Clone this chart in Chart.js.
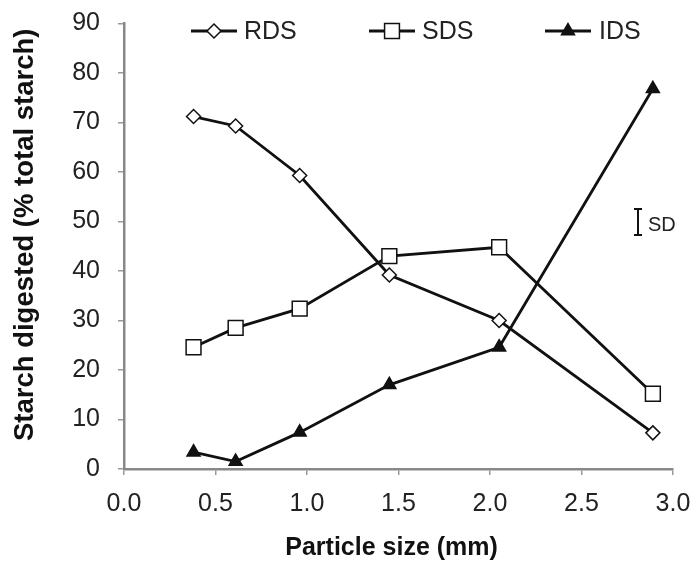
<!DOCTYPE html>
<html lang="en">
<head>
    <meta charset="UTF-8">
    <title>Starch digestion vs particle size</title>
    <script src="https://cdn.jsdelivr.net/npm/chart.js"></script>
    <style>
        body { margin: 0; background: #fff; }
        #wrap { width: 698px; height: 563px; }
    </style>
</head>
<body>
    <div id="wrap"><canvas id="starchChart" width="698" height="563"></canvas></div>

    <script>
        // values
        const particleSize = [0.38, 0.61, 0.96, 1.45, 2.05, 2.89];
        const rds = [71.2, 69.3, 59.3, 39.2, 30.0, 7.3];
        const sds = [24.6, 28.5, 32.4, 43.0, 44.8, 15.2];
        const ids = [3.4, 1.5, 7.4, 17.0, 24.6, 76.8];
        const legendNames = ['RDS', 'SDS', 'IDS'];

        const FONT = '"Liberation Sans", Arial, sans-serif';
        const ink = '#111';

        function pairs(ys) {
            return ys.map((y, i) => ({ x: particleSize[i], y: y }));
        }

        const markerStyles = [
            { pointStyle: 'rectRot', pointRadius: 7, pointBackgroundColor: '#fff' },
            { pointStyle: 'rect', pointRadius: 10.5, pointBackgroundColor: '#fff' },
            { pointStyle: 'triangle', pointRadius: 7.5, pointBackgroundColor: ink }
        ];

        // legend across the top of the plot + the SD bar
        const extras = {
            id: 'extras',
            afterDraw(chart) {
                const ctx = chart.ctx;
                const slots = [[191, 244], [369, 422], [545, 599]];
                ctx.save();
                chart.data.datasets.forEach((ds, i) => {
                    const x0 = slots[i][0], y = 31;
                    ctx.strokeStyle = ink;
                    ctx.lineWidth = 3;
                    ctx.beginPath();
                    ctx.moveTo(x0, y);
                    ctx.lineTo(x0 + 46, y);
                    ctx.stroke();
                    ctx.lineWidth = 1.5;
                    ctx.fillStyle = ds.pointBackgroundColor;
                    ctx.strokeStyle = ink;
                    Chart.helpers.drawPoint(ctx, {
                        pointStyle: ds.pointStyle,
                        radius: ds.pointRadius,
                        rotation: 0,
                        borderWidth: 1.5
                    }, x0 + 23, y);
                    ctx.fillStyle = '#222';
                    ctx.font = '25px ' + FONT;
                    ctx.textBaseline = 'middle';
                    ctx.fillText(ds.label, slots[i][1], y + 1);
                });

                // SD indicator
                ctx.strokeStyle = ink;
                ctx.lineWidth = 2;
                ctx.beginPath();
                ctx.moveTo(638, 209); ctx.lineTo(638, 235);
                ctx.moveTo(634, 209); ctx.lineTo(642, 209);
                ctx.moveTo(634, 235); ctx.lineTo(642, 235);
                ctx.stroke();
                ctx.fillStyle = '#222';
                ctx.font = '20px ' + FONT;
                ctx.textBaseline = 'middle';
                ctx.fillText('SD', 648, 225);
                ctx.restore();
            }
        };

        const ctx = document.getElementById('starchChart').getContext('2d');
        const starchChart = new Chart(ctx, {
            type: 'scatter',
            data: {
                datasets: [rds, sds, ids].map((vals, i) => Object.assign({
                    label: legendNames[i],
                    data: pairs(vals),
                    showLine: true,
                    borderColor: ink,
                    borderWidth: 2.8,
                    pointBorderColor: ink,
                    pointBorderWidth: 1.5,
                    tension: 0
                }, markerStyles[i]))
            },
            options: {
                responsive: false,
                animation: false,
                layout: { padding: { top: 23.5, right: 25, left: 0, bottom: 0 } },
                plugins: {
                    legend: { display: false },
                    tooltip: { enabled: false }
                },
                scales: {
                    x: {
                        type: 'linear',
                        min: 0, max: 3,
                        afterFit: s => { s.height = 94; s.paddingLeft = 0; s.paddingRight = 0; },
                        ticks: {
                            stepSize: 0.5,
                            callback: v => v.toFixed(1),
                            color: '#222',
                            font: { family: FONT, size: 25 },
                            padding: 14
                        },
                        grid: { drawOnChartArea: false, drawTicks: true, tickLength: 6, color: '#999', lineWidth: 1.5 },
                        border: { display: true, color: '#888', width: 2.5 },
                        title: {
                            display: true,
                            text: 'Particle size (mm)  ',
                            color: '#111',
                            font: { family: FONT, size: 25, weight: 'bold' },
                            padding: { top: 0, bottom: 0 }
                        }
                    },
                    y: {
                        min: 0, max: 90,
                        afterFit: s => { s.width = 124; s.paddingTop = 0; s.paddingBottom = 0; },
                        ticks: {
                            stepSize: 10,
                            color: '#222',
                            font: { family: FONT, size: 25 },
                            padding: 18
                        },
                        grid: { drawOnChartArea: false, drawTicks: true, tickLength: 6, color: '#999', lineWidth: 1.5 },
                        border: { display: true, color: '#888', width: 2.5 },
                        title: {
                            display: true,
                            text: '   Starch digested (% total starch)',
                            color: '#111',
                            font: { family: FONT, size: 27.5, weight: 'bold' },
                            padding: { top: 9, bottom: 0 }
                        }
                    }
                }
            },
            plugins: [extras]
        });
    </script>
</body>
</html>
